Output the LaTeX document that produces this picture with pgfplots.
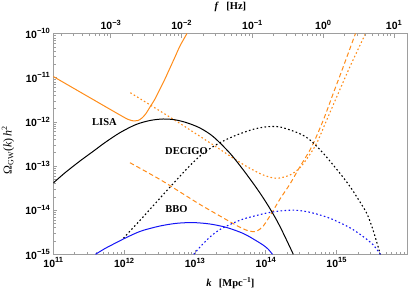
\documentclass[border=0pt]{standalone}
\usepackage{pgfplots}
\pgfplotsset{compat=1.18}
\usepackage{fontspec}
\setmainfont{Liberation Serif}
\setsansfont{Liberation Sans}
\definecolor{mmaorange}{RGB}{255,140,25}
\definecolor{mmablue}{RGB}{20,20,245}
\definecolor{framegray}{gray}{0.62}
\newcommand{\tp}[1]{10\raisebox{0.42em}{\fontsize{7.5}{8}\selectfont #1}}
\begin{document}
\begin{tikzpicture}
\path[use as bounding box] (-53.3pt,-37.7pt) rectangle (355.7pt,254.3pt);
\begin{axis}[
  at={(0pt,0pt)}, anchor=south west, scale only axis,
  width=354.2pt, height=220.8pt,
  xmin=11, xmax=16.003, ymin=-15, ymax=-10,
  axis line style={framegray, line width=0.6pt},
  tick style={framegray, line width=0.5pt},
  tick align=inside,
  major tick length=4.2pt, minor tick length=2.3pt,
  xtick pos=left, ytick pos=left,
  tick label style={font=\sffamily\bfseries\fontsize{10.5}{12}\selectfont, black},
  xtick={11,12,13,14,15},
  xticklabels={\tp{11},\tp{12},\tp{13},\tp{14},\tp{15}},
  minor xtick={11.301,11.477,11.602,11.699,11.778,11.845,11.903,11.954,
    12.301,12.477,12.602,12.699,12.778,12.845,12.903,12.954,
    13.301,13.477,13.602,13.699,13.778,13.845,13.903,13.954,
    14.301,14.477,14.602,14.699,14.778,14.845,14.903,14.954,
    15.301,15.477,15.602,15.699,15.778,15.845,15.903,15.954},
  ytick={-15,-14,-13,-12,-11,-10},
  yticklabels={\tp{−15},\tp{−14},\tp{−13},\tp{−12},\tp{−11},\tp{−10}},
  minor ytick={-14.699,-14.523,-14.398,-14.301,-14.222,-14.155,-14.097,-14.046,
    -13.699,-13.523,-13.398,-13.301,-13.222,-13.155,-13.097,-13.046,
    -12.699,-12.523,-12.398,-12.301,-12.222,-12.155,-12.097,-12.046,
    -11.699,-11.523,-11.398,-11.301,-11.222,-11.155,-11.097,-11.046,
    -10.699,-10.523,-10.398,-10.301,-10.222,-10.155,-10.097,-10.046},
  xlabel={\textbf{\textit{k}}\hspace{0.7em}\textbf{[Mpc\raisebox{0.42em}{\fontsize{7.5}{8}\selectfont −1}]}},
  xlabel style={at={(axis description cs:0.5,-0.130)}, anchor=center, font=\fontsize{10.5}{12}\selectfont},
  ylabel={Ω\textsubscript{GW}(\textit{k})\,\textit{h}\textsuperscript{2}},
  ylabel style={at={(axis description cs:-0.128,0.472)}, anchor=center, rotate=0, font=\fontsize{12}{14}\selectfont},
]
% LISA sensitivity
\addplot[mmaorange, line width=1pt, smooth] coordinates {
(11.000,-10.974) (11.518,-11.454) (11.984,-11.884) (12.069,-11.952) (12.140,-11.981) (12.196,-11.970) (12.253,-11.913) (12.309,-11.812) (12.366,-11.664) (12.436,-11.483) (12.507,-11.257) (12.577,-11.030) (12.648,-10.781) (12.719,-10.532) (12.789,-10.283) (12.888,-10.000)};
% DECIGO sensitivity
\addplot[mmaorange, line width=1.1pt, smooth, dash pattern=on 1.6pt off 2.4pt] coordinates {
(12.088,-11.341) (12.507,-11.755) (12.808,-12.056) (13.260,-12.525) (13.496,-12.774) (13.732,-13.012) (13.966,-13.204) (14.155,-13.279) (14.343,-13.204) (14.484,-13.040) (14.597,-12.800) (14.720,-12.486) (14.862,-11.959) (15.025,-11.354) (15.190,-10.752) (15.410,-10.000)};
% BBO sensitivity
\addplot[mmaorange, line width=1pt, smooth, dash pattern=on 4.5pt off 2.8pt] coordinates {
(12.083,-12.926) (12.507,-13.306) (12.790,-13.589) (13.072,-13.872) (13.354,-14.133) (13.590,-14.348) (13.722,-14.450) (13.806,-14.484) (13.877,-14.472) (13.966,-14.359) (14.085,-14.065) (14.202,-13.748) (14.343,-13.408) (14.470,-13.053) (14.650,-12.563) (14.814,-11.959) (14.955,-11.354) (15.096,-10.752) (15.268,-10.000)};
% black solid spectrum
\addplot[black, line width=1pt, smooth] coordinates {
(11.000,-13.385) (11.165,-13.154) (11.377,-12.887) (11.589,-12.638) (11.730,-12.470) (11.942,-12.245) (12.168,-12.061) (12.366,-11.970) (12.549,-11.936) (12.719,-11.954) (12.888,-12.022) (13.072,-12.140) (13.260,-12.337) (13.496,-12.713) (13.684,-13.091) (13.873,-13.505) (14.014,-13.845) (14.146,-14.201) (14.249,-14.524) (14.390,-15.000)};
% black dotted spectrum
\addplot[black, line width=1.1pt, smooth, dash pattern=on 1.6pt off 2.4pt] coordinates {
(11.989,-14.638) (12.271,-14.149) (12.624,-13.521) (12.931,-12.989) (13.114,-12.717) (13.260,-12.559) (13.401,-12.434) (13.590,-12.298) (13.825,-12.169) (14.014,-12.113) (14.202,-12.117) (14.470,-12.260) (14.626,-12.412) (14.814,-12.713) (15.049,-13.166) (15.191,-13.465) (15.285,-13.696) (15.427,-14.072) (15.516,-14.450) (15.619,-15.000)};
% blue solid spectrum
\addplot[mmablue, line width=1pt, smooth] coordinates {
(11.596,-15.0) (11.730,-14.869) (11.871,-14.751) (11.989,-14.654) (12.154,-14.529) (12.271,-14.457) (12.507,-14.359) (12.743,-14.298) (12.977,-14.282) (13.213,-14.314) (13.449,-14.393) (13.684,-14.529) (13.849,-14.676) (13.962,-14.789) (14.033,-14.880) (14.096,-15.0)};
% blue dotted spectrum
\addplot[mmablue, line width=1.1pt, smooth, dash pattern=on 1.6pt off 2.4pt] coordinates {
(12.984,-15.0) (13.072,-14.835) (13.213,-14.608) (13.354,-14.438) (13.542,-14.291) (13.684,-14.201) (13.825,-14.139) (14.014,-14.065) (14.202,-14.019) (14.414,-14.001) (14.626,-14.049) (14.908,-14.185) (15.191,-14.400) (15.379,-14.601) (15.520,-14.789) (15.619,-15.0)};
\node[font=\bfseries\fontsize{10.5}{12}\selectfont] at (axis cs:11.723,-12.015) {LISA};
\node[font=\bfseries\fontsize{10.5}{12}\selectfont] at (axis cs:12.881,-12.661) {DECIGO};
\node[font=\bfseries\fontsize{10.5}{12}\selectfont] at (axis cs:12.740,-13.974) {BBO};
\end{axis}
\begin{axis}[
  at={(0pt,0pt)}, anchor=south west, scale only axis,
  width=354.2pt, height=220.8pt,
  xmin=-3.8108, xmax=1.1922, ymin=0, ymax=1,
  axis line style={draw=none},
  tick style={framegray, line width=0.5pt},
  tick align=inside,
  major tick length=4.2pt, minor tick length=2.3pt,
  ytick=\empty,
  xtick pos=right, xticklabel pos=right,
  tick label style={font=\sffamily\bfseries\fontsize{10.5}{12}\selectfont, black},
  xtick={-3,-2,-1,0,1},
  xticklabels={\tp{−3},\tp{−2},\tp{−1},\tp{0},\tp{1}},
  minor xtick={-3.699,-3.523,-3.398,-3.301,-3.222,-3.155,-3.097,-3.046,
    -2.699,-2.523,-2.398,-2.301,-2.222,-2.155,-2.097,-2.046,
    -1.699,-1.523,-1.398,-1.301,-1.222,-1.155,-1.097,-1.046,
    -0.699,-0.523,-0.398,-0.301,-0.222,-0.155,-0.097,-0.046,
    0.301,0.477,0.602,0.699,0.778,0.845,0.903,0.954},
  xlabel={\textbf{\textit{f}}\hspace{0.7em}\textbf{[Hz]}},
  xlabel style={at={(axis description cs:0.5,1.120)}, anchor=center, font=\fontsize{10.5}{12}\selectfont},
]
\end{axis}
\end{tikzpicture}
\end{document}
